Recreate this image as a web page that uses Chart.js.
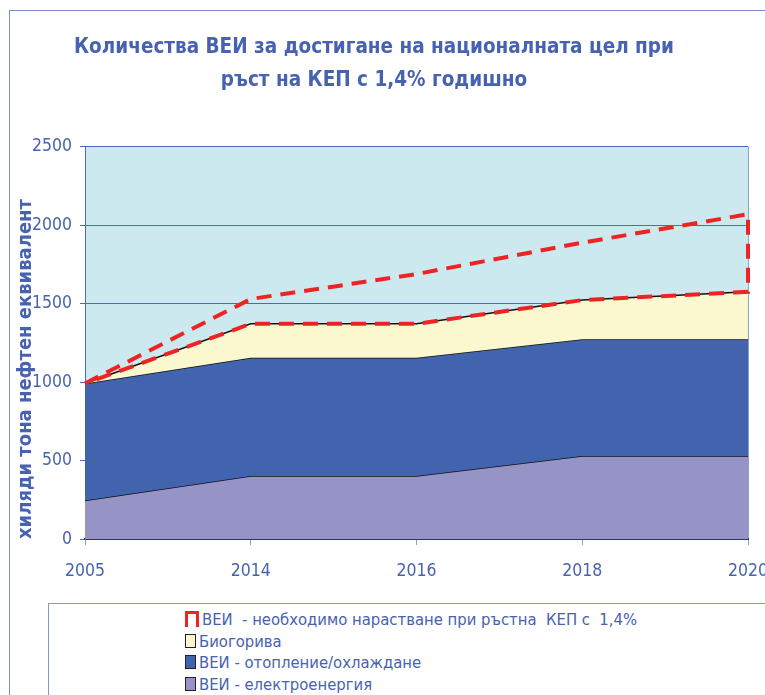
<!DOCTYPE html>
<html>
<head>
<meta charset="utf-8">
<script src="https://cdn.jsdelivr.net/npm/chart.js@4/dist/chart.umd.min.js"></script>
<style>
body{margin:0;background:#fff;}
#wrap{position:relative;width:765px;height:695px;overflow:hidden;}
#frame{position:absolute;left:9px;top:10px;width:800px;height:800px;border:1px solid #7890c6;}
#chart{position:absolute;left:0;top:0;}
#legend{position:absolute;left:48px;top:603px;width:800px;height:200px;border:1px solid #8796c4;background:#fff;
  font-family:"Liberation Sans Narrow","Arial Narrow","DejaVu Sans Condensed",sans-serif;font-size:16.5px;color:#4762b0;}
#legend .item{position:absolute;left:136px;height:22px;line-height:22px;white-space:pre;}
#legend .box{display:inline-block;width:9px;height:12px;border:1px solid #222;vertical-align:-1px;margin-right:3px;}
#legend .red{display:inline-block;width:8px;height:13px;border:3px solid #ee2424;border-bottom:none;vertical-align:-2px;margin-right:3px;}
</style>
</head>
<body>
<div id="wrap">
  <div id="frame"></div>
  <canvas id="chart" width="800" height="695"></canvas>
  <div id="legend"></div>
</div>
<script>
var years = ['2005', '2014', '2016', '2018', '2020'];
var elektro = [245, 402, 402, 529, 529];
var otoplenie = [746, 752, 752, 743, 743];
var biogoriva = [0, 217, 217, 250, 303];
var narastvane = [0, 158, 317, 366, 494];

var blue = '#4762b0';
var font = '"Liberation Sans Narrow","Arial Narrow","DejaVu Sans Condensed",sans-serif';

function add(a, b) {
  var r = [];
  for (var i = 0; i < a.length; i++) r.push(a[i] + b[i]);
  return r;
}

var s1 = elektro;
var s2 = add(s1, otoplenie);
var s3 = add(s2, biogoriva);
var s4 = add(s3, narastvane);

// red outline: up along the needed total, back along the biofuel top
var outline = [];
for (var i = 0; i < years.length; i++) outline.push({x: years[i], y: s4[i]});
for (var j = years.length - 1; j >= 0; j--) outline.push({x: years[j], y: s3[j]});

var plotBg = {
  id: 'plotBg',
  beforeDraw: function(chart) {
    var a = chart.chartArea, c = chart.ctx;
    c.save();
    c.fillStyle = '#cde9f0';
    c.fillRect(a.left, a.top, a.right - a.left, a.bottom - a.top);
    c.strokeStyle = '#8aa3d6';
    c.lineWidth = 1;
    c.beginPath();
    c.moveTo(a.right + 0.5, a.top);
    c.lineTo(a.right + 0.5, a.bottom);
    c.stroke();
    c.restore();
  }
};

var chart = new Chart(document.getElementById('chart').getContext('2d'), {
  type: 'line',
  data: {
    labels: years,
    datasets: [
      {label: 'ВЕИ  - необходимо нарастване при ръстна  КЕП с  1,4%', data: outline, borderColor: '#ee2424',
        borderWidth: 4, borderDash: [15, 9], fill: false, pointRadius: 0, tension: 0, swatch: 'red'},
      {label: 'Биогорива', data: s3, borderColor: '#111', borderWidth: 1.5, backgroundColor: '#fbf8d0',
        fill: '+1', pointRadius: 0, tension: 0},
      {label: 'ВЕИ - отопление/охлаждане', data: s2, borderColor: '#111', borderWidth: 1.5, backgroundColor: '#4264ae',
        fill: '+1', pointRadius: 0, tension: 0},
      {label: 'ВЕИ - електроенергия', data: s1, borderColor: '#111', borderWidth: 1.5, backgroundColor: '#9693c6',
        fill: 'origin', pointRadius: 0, tension: 0}
    ]
  },
  options: {
    responsive: false,
    animation: false,
    events: [],
    layout: {padding: {top: 0, left: 0, right: 52, bottom: 106}},
    plugins: {
      legend: {display: false},
      tooltip: {enabled: false},
      title: {
        display: true,
        text: ['Количества ВЕИ за достигане на националната цел при', 'ръст на КЕП с 1,4% годишно'],
        color: blue,
        font: {family: font, size: 20.5, weight: 'bold', lineHeight: 1.6},
        padding: {top: 31, bottom: 50}
      }
    },
    scales: {
      x: {
        offset: false,
        ticks: {color: blue, font: {family: font, size: 17.5}, padding: 16, maxRotation: 0},
        grid: {drawOnChartArea: false, tickLength: 6, color: '#8aa3d6'},
        border: {color: '#2c3468', width: 2},
        afterFit: function(s) { s.height = 50; }
      },
      y: {
        min: 0,
        max: 2500,
        ticks: {stepSize: 500, color: blue, font: {family: font, size: 17.5}, padding: 8,
          callback: function(v) { return String(v); }},
        grid: {color: '#4a6ac0', tickLength: 5},
        border: {color: '#4a6ac0'},
        title: {display: true, text: 'хиляди тона нефтен еквивалент', align: 'start', color: blue,
          font: {family: font, size: 20, weight: 'bold'}, padding: {top: 14}},
        afterFit: function(s) { s.width = 85; }
      }
    }
  },
  plugins: [plotBg]
});

var legend = document.getElementById('legend');
chart.data.datasets.forEach(function(ds, k) {
  var row = document.createElement('div');
  row.className = 'item';
  row.style.top = (5 + k * 21.7) + 'px';
  var sw = document.createElement('span');
  if (ds.swatch == 'red') {
    sw.className = 'red';
  } else {
    sw.className = 'box';
    sw.style.background = ds.backgroundColor;
  }
  row.appendChild(sw);
  row.appendChild(document.createTextNode(ds.label));
  legend.appendChild(row);
});
</script>
</body>
</html>
